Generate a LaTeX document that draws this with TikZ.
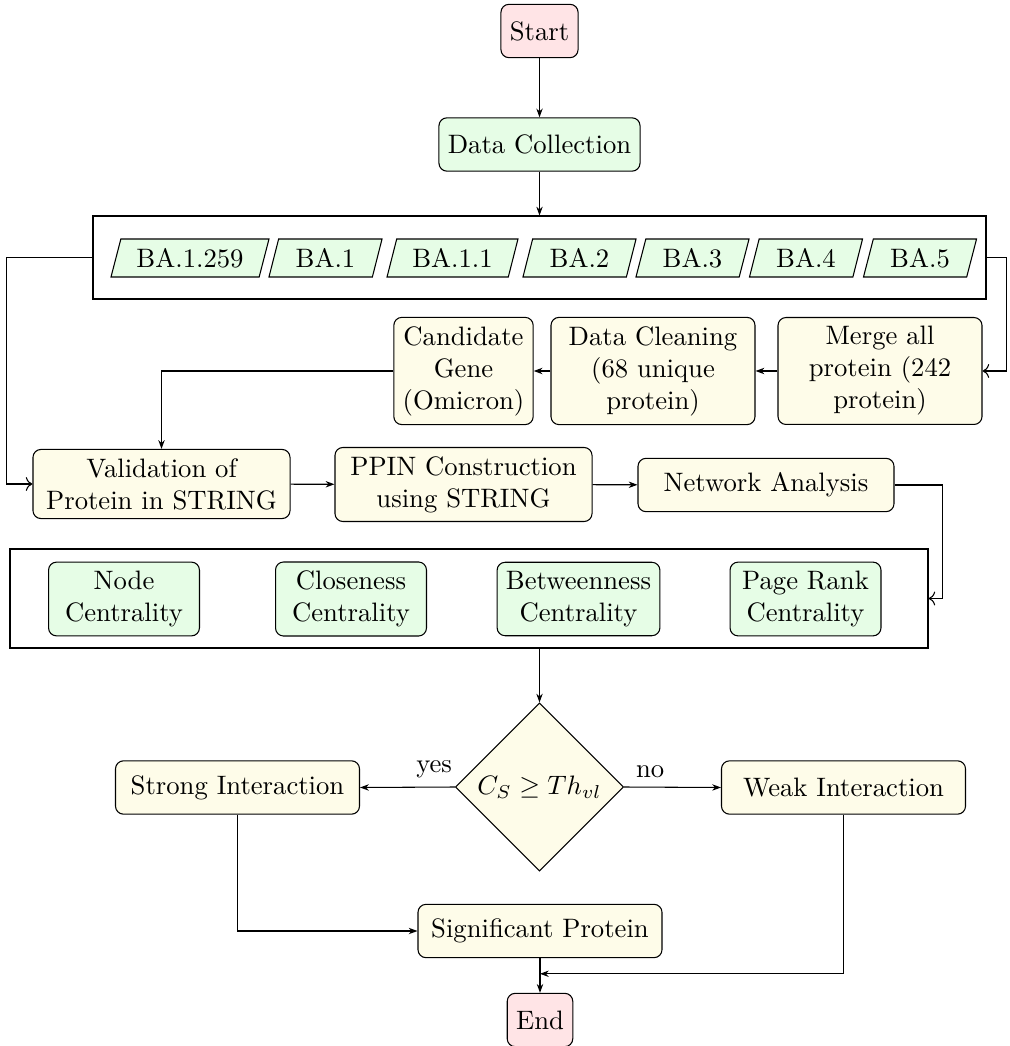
\documentclass[tikz,border=0pt]{standalone}
\usetikzlibrary{shapes.geometric,arrows.meta,calc}
\newdimen\pxu \pxu=0.375pt
\definecolor{pinkfill}{RGB}{255,228,230}
\definecolor{greenfill}{RGB}{230,253,230}
\definecolor{creamfill}{RGB}{254,252,233}
\begin{document}
\begin{tikzpicture}[x=0.375pt,y=-0.375pt,
  box/.style={draw, rounded corners=3pt, align=center, minimum height=20pt, inner sep=3.33pt},
  term/.style={box, fill=pinkfill},
  gbox/.style={box, fill=greenfill},
  ybox/.style={box, fill=creamfill},
  para/.style={draw, trapezium, trapezium left angle=72, trapezium right angle=108,
    trapezium stretches body, fill=greenfill, minimum height=14.25pt,
    minimum width=42.4pt, inner xsep=5pt, inner ysep=2pt},
  group/.style={draw, rectangle},
  dec/.style={draw, diamond, aspect=1, fill=creamfill, minimum size=63pt, inner sep=0pt},
  arr/.style={-{Stealth[length=3.3pt,width=2.4pt]}},
  oarr/.style={->},
]
\useasboundingbox (0,0) rectangle (1010,1046);

% top
\node[term] (start) at (539.5,31) {Start};
\node[gbox] (dc) at (539.5,144.5) {Data Collection};

% variants group
\node[group, minimum width=893\pxu, minimum height=83\pxu] (ba) at (539.5,257.5) {};
\node[para, minimum width=59.25pt] (b1) at (190,258) {BA.1.259};
\node[para] (b2) at (325.5,258) {BA.1};
\node[para, minimum width=49.1pt] (b3) at (452.5,258) {BA.1.1};
\node[para] (b4) at (579.5,258) {BA.2};
\node[para] (b5) at (692.5,258) {BA.3};
\node[para] (b6) at (806,258) {BA.4};
\node[para] (b7) at (920,258) {BA.5};

% row 3
\node[ybox, minimum width=52.1pt] (cand) at (463.5,371) {Candidate\\Gene\\(Omicron)};
\node[ybox, minimum width=76.5pt] (clean) at (653,371) {Data Cleaning\\(68 unique\\protein)};
\node[ybox, minimum width=76.5pt] (merge) at (880,371) {Merge all\\protein (242\\protein)};

% row 4
\node[ybox, minimum width=96.4pt] (val) at (161.5,484) {Validation of\\Protein in STRING};
\node[ybox, minimum width=96.4pt] (ppin) at (463.5,484.5) {PPIN Construction\\using STRING};
\node[ybox, minimum width=96pt] (net) at (766,485) {Network Analysis};

% centrality group
\node[group, minimum width=918\pxu, minimum height=99\pxu] (cent) at (469,598.5) {};
\node[gbox, minimum width=56.6pt] (c1) at (124,599) {Node\\Centrality};
\node[gbox, minimum width=56.6pt] (c2) at (351,599) {Closeness\\Centrality};
\node[gbox, minimum width=56.6pt] (c3) at (578.5,599) {Betweenness\\Centrality};
\node[gbox, minimum width=56.6pt] (c4) at (805.5,599) {Page Rank\\Centrality};

% decision
\node[dec] (dia) at (539.5,787) {$C_S \geq Th_{vl}$};
\node[ybox, minimum width=91.5pt] (strong) at (237.5,787.5) {Strong Interaction};
\node[ybox, minimum width=91.5pt] (weak) at (843.5,787.5) {Weak Interaction};
\node[ybox, minimum width=91.5pt] (sig) at (540,931) {Significant Protein};
\node[term] (end) at (540,1020) {End};
\coordinate (j) at ($(sig.south)!0.45!(end.north)$);

% connectors
\draw[arr] (start) -- (dc);
\draw[arr] (dc) -- (ba);
\draw[oarr] (ba.west) -- ++(-86,0) |- (val.west);
\draw[oarr] (ba.east) -- ++(20,0) |- (merge.east);
\draw[arr] (merge) -- (clean);
\draw[arr] (clean) -- (cand);
\draw[arr] (cand.west) -| (val.north);
\draw[arr] (val) -- (ppin);
\draw[arr] (ppin) -- (net);
\draw[oarr] (net.east) -- ++(48,0) |- (cent.east);
\draw[arr] (dia.north |- cent.south) -- (dia.north);
\draw[arr] (dia.west) -- node[above, pos=0.22] {yes} (strong.east);
\draw[arr] (dia.east) -- node[above, pos=0.27] {no} (weak.west);
\draw[arr] (strong.south) |- (sig.west);
\draw[arr] (sig) -- (end);
\draw[arr] (weak.south) |- (j);
\end{tikzpicture}
\end{document}
